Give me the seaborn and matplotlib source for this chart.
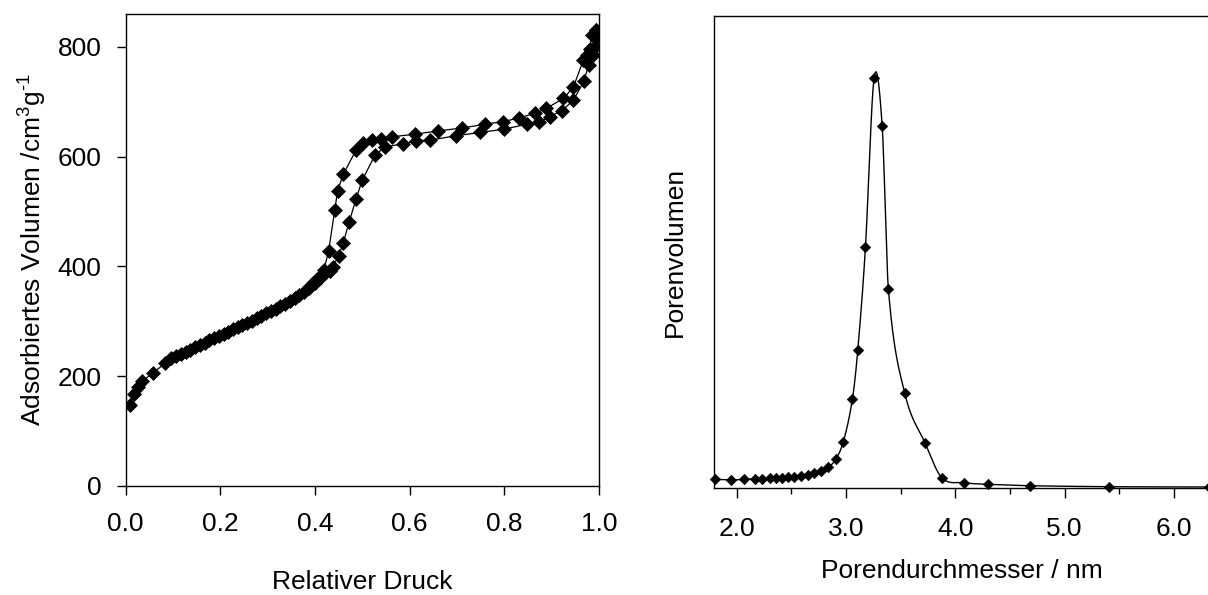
import numpy as np
import matplotlib
matplotlib.use("Agg")
import matplotlib.pyplot as plt
from matplotlib.ticker import FormatStrFormatter
import seaborn as sns

# N2 sorption isotherm: adsorption branch (relative pressure, adsorbed volume cm3/g)
p_ads = [0.0085, 0.018, 0.026, 0.035, 0.058, 0.084,
         0.097, 0.107, 0.117, 0.127, 0.137, 0.147, 0.157, 0.167, 0.177, 0.187,
         0.197, 0.207, 0.217, 0.227, 0.237, 0.247, 0.257, 0.267, 0.277, 0.287,
         0.297, 0.307, 0.317, 0.327, 0.337, 0.347, 0.357, 0.367, 0.377, 0.387,
         0.397, 0.405, 0.413, 0.421, 0.431, 0.438, 0.450, 0.460, 0.472, 0.487,
         0.500, 0.527, 0.549, 0.586, 0.614, 0.643, 0.698, 0.748, 0.800, 0.847,
         0.874, 0.896, 0.922, 0.946, 0.968, 0.978, 0.987, 0.991, 0.993, 0.994]
v_ads = [147, 168, 180, 190, 206, 223,
         233, 236, 240, 244, 248, 252, 256, 261, 265, 269,
         273, 277, 281, 285, 289, 293, 297, 301, 305, 310,
         314, 318, 322, 327, 332, 337, 342, 348, 354, 361,
         369, 377, 383, 388, 392, 399, 419, 443, 480, 523,
         557, 603, 618, 623, 629, 630, 638, 644, 650, 659,
         663, 673, 684, 703, 737, 767, 785, 800, 818, 831]

# desorption branch
p_des = [0.994, 0.985, 0.980, 0.975, 0.967, 0.946, 0.925, 0.889, 0.865, 0.830,
         0.798, 0.759, 0.710, 0.661, 0.612, 0.562, 0.539, 0.520, 0.502, 0.487,
         0.460, 0.448, 0.442, 0.429, 0.419, 0.410, 0.400, 0.390]
v_des = [831, 822, 797, 785, 776, 727, 706, 688, 679, 670,
         664, 659, 652, 647, 641, 636, 632, 630, 625, 612,
         568, 538, 503, 428, 393, 378, 370, 364]

# pore size distribution (pore diameter nm, pore volume, arbitrary units)
d_pore = [1.800, 1.948, 2.067, 2.168, 2.234, 2.305, 2.360, 2.418, 2.473, 2.528,
          2.589, 2.650, 2.708, 2.769, 2.839, 2.906, 2.976, 3.059, 3.108, 3.178,
          3.257, 3.331, 3.388, 3.538, 3.725, 3.877, 4.079, 4.295, 4.683, 5.409,
          6.320]
v_pore = [8.4, 7.7, 8.4, 8.7, 9.0, 9.4, 9.7, 9.7, 10.4, 10.7,
          11.7, 12.7, 14.4, 17.0, 20.4, 28.4, 46.0, 88.7, 137.7, 240.4,
          409.4, 362.0, 198.4, 94.4, 44.4, 10.0, 5.0, 3.4, 2.0, 1.0,
          0.7]

sns.set_theme(style="white")
plt.rcParams["font.family"] = ["Liberation Sans", "DejaVu Sans"]
plt.rcParams["mathtext.fontset"] = "custom"
plt.rcParams["mathtext.rm"] = "Liberation Sans"
plt.rcParams["mathtext.it"] = "Liberation Sans:italic"
plt.rcParams["axes.edgecolor"] = "black"
plt.rcParams["axes.linewidth"] = 1.0
plt.rcParams["text.color"] = "black"
plt.rcParams["axes.labelcolor"] = "black"
plt.rcParams["xtick.color"] = "black"
plt.rcParams["ytick.color"] = "black"

FS = 19
W, H = 1208, 595
fig = plt.figure(figsize=(W / 100, H / 100), dpi=100)
ax1 = fig.add_axes([125.5 / W, 1 - 485.7 / H, (599 - 125.5) / W, (485.7 - 14) / H])
ax2 = fig.add_axes([714.3 / W, 1 - 487.7 / H, (1208.8 - 714.3) / W, (487.7 - 16) / H])

# ---- left: isotherm
line_kw = dict(color="black", linewidth=0.9, marker="D", markersize=7.6,
               markerfacecolor="black", markeredgecolor="black",
               markeredgewidth=0.5, sort=False, estimator=None)
sns.lineplot(x=p_ads, y=v_ads, ax=ax1, **line_kw)
sns.lineplot(x=p_des, y=v_des, ax=ax1, **line_kw)
ax1.set_xlim(0, 1)
ax1.set_ylim(0, 860)
ax1.set_xticks([0.0, 0.2, 0.4, 0.6, 0.8, 1.0])
ax1.set_yticks([0, 200, 400, 600, 800])
ax1.xaxis.set_major_formatter(FormatStrFormatter("%.1f"))
ax1.tick_params(axis="x", direction="out", length=6.2, width=1, pad=13,
                labelsize=FS, bottom=True, colors="black")
ax1.tick_params(axis="y", direction="out", length=6.2, width=1, pad=11,
                labelsize=FS, left=True, colors="black")
ax1.set_xlabel("Relativer Druck", fontsize=FS, labelpad=24)
ax1.set_ylabel(r"Adsorbiertes Volumen /cm$^{3}$g$^{\text{-}1}$", fontsize=FS,
               labelpad=6)
for s in ax1.spines.values():
    s.set_visible(True)
    s.set_color("black")

# ---- right: pore size distribution, smooth curve through the points
xd = np.asarray(d_pore, dtype=float)
yd = np.asarray(v_pore, dtype=float)
slope = np.empty_like(yd)
slope[1:-1] = (yd[2:] - yd[:-2]) / (xd[2:] - xd[:-2])
slope[0] = (yd[1] - yd[0]) / (xd[1] - xd[0])
slope[-1] = (yd[-1] - yd[-2]) / (xd[-1] - xd[-2])
cx, cy = [], []
for i in range(len(xd) - 1):
    h = xd[i + 1] - xd[i]
    t = np.linspace(0, 1, 40, endpoint=False)
    h00 = 2 * t**3 - 3 * t**2 + 1
    h10 = t**3 - 2 * t**2 + t
    h01 = -2 * t**3 + 3 * t**2
    h11 = t**3 - t**2
    cx.append(xd[i] + t * h)
    cy.append(h00 * yd[i] + h10 * h * slope[i] + h01 * yd[i + 1] + h11 * h * slope[i + 1])
cx.append([xd[-1]])
cy.append([yd[-1]])
cx = np.concatenate(cx)
cy = np.concatenate(cy)
ax2.plot(cx, cy, color="black", linewidth=1.0)
sns.scatterplot(x=d_pore, y=v_pore, ax=ax2, marker="D", s=28, color="black",
                edgecolor="black", linewidth=0.5, clip_on=False, zorder=3)
ax2.set_xlim(1.795, 6.32)
ax2.set_ylim(0, 471.7)
ax2.set_xticks([2.0, 3.0, 4.0, 5.0, 6.0])
ax2.set_xticks([2.5, 3.5, 4.5, 5.5], minor=True)
ax2.xaxis.set_major_formatter(FormatStrFormatter("%.1f"))
ax2.set_yticks([])
ax2.tick_params(axis="x", which="major", direction="out", length=7.2, width=1,
                pad=14, labelsize=FS, bottom=True, colors="black")
ax2.tick_params(axis="x", which="minor", direction="out", length=4.3, width=1,
                bottom=True, colors="black")
ax2.set_xlabel("Porendurchmesser / nm", fontsize=FS, labelpad=13)
ax2.set_ylabel("Porenvolumen", fontsize=FS, labelpad=20)
ax2.spines["right"].set_visible(False)
for k in ("left", "top", "bottom"):
    ax2.spines[k].set_visible(True)
    ax2.spines[k].set_color("black")

fig.savefig("out.png", dpi=100)
